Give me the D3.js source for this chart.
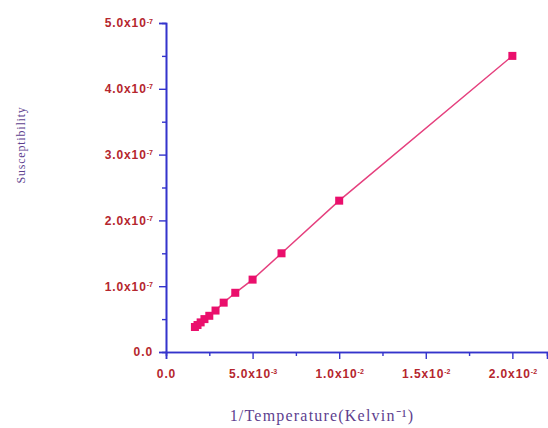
<!DOCTYPE html>
<html>
<head>
<meta charset="utf-8">
<script src="https://cdn.jsdelivr.net/npm/d3@7"></script>
<style>
  body { margin: 0; background: #fff; }
</style>
</head>
<body>
<div id="chart"></div>
<script>
// data
var invTemp = [0.00167, 0.00182, 0.002, 0.00222, 0.0025, 0.00286, 0.00333, 0.004, 0.005, 0.00667, 0.01, 0.02];
var suscept = [0.38e-7, 0.41e-7, 0.45e-7, 0.5e-7, 0.55e-7, 0.63e-7, 0.75e-7, 0.9e-7, 1.1e-7, 1.5e-7, 2.3e-7, 4.5e-7];
var xTicks = [0, 0.005, 0.01, 0.015, 0.02];
var xTickText = [["0.0", ""], ["5.0x10", "-3"], ["1.0x10", "-2"], ["1.5x10", "-2"], ["2.0x10", "-2"]];
var yTicks = [0, 1e-7, 2e-7, 3e-7, 4e-7, 5e-7];
var yTickText = [["0.0", ""], ["1.0x10", "-7"], ["2.0x10", "-7"], ["3.0x10", "-7"], ["4.0x10", "-7"], ["5.0x10", "-7"]];

var data = invTemp.map((d, i) => ({x: d, y: suscept[i]}));

var width = 548, height = 428;
var margin = {top: 23, right: 1, bottom: 76, left: 166};

var svg = d3.select("#chart")
    .append("svg")
    .attr("width", width)
    .attr("height", height);

// Set X
const x = d3.scaleLinear()
    .domain([0, 0.022])
    .range([margin.left, width - margin.right]);

// Set Y
const y = d3.scaleLinear()
    .domain([0, 5e-7])
    .range([height - margin.bottom, margin.top]);

var axisColor = "#3434cc",
    labelColor = "#b5262e",
    titleColor = "#5e3f8f";

function styleAxis(g) {
    g.select(".domain").attr("stroke", axisColor).attr("stroke-width", 1.6);
    g.selectAll(".tick line").attr("stroke", axisColor).attr("stroke-width", 1.4);
}

function styleLabels(g) {
    g.selectAll(".tick text")
        .attr("fill", labelColor)
        .attr("font-family", "Arial, 'Liberation Sans', sans-serif")
        .attr("font-weight", "bold")
        .attr("font-size", "12px")
        .attr("letter-spacing", "0.9px");
}

function supLabels(g, texts) {
    g.selectAll(".tick text").each(function (d, i) {
        var t = d3.select(this).text("");
        t.append("tspan").text(texts[i][0]);
        if (texts[i][1]) {
            t.append("tspan").attr("dy", "-0.55em").attr("font-size", "7px").attr("letter-spacing", "0").text(texts[i][1]);
        }
    });
}

// minor ticks
svg.append("g")
    .attr("transform", `translate(0,${y(0)})`)
    .call(d3.axisBottom(x).tickValues(d3.range(0.0025, 0.022, 0.005)).tickSize(4).tickFormat(""))
    .call(styleAxis);

svg.append("g")
    .attr("transform", `translate(${x(0)},0)`)
    .call(d3.axisLeft(y).tickValues(d3.range(0.5e-7, 5e-7, 1e-7)).tickSize(4).tickFormat(""))
    .call(styleAxis);

// x Axis
svg.append("g")
    .attr("transform", `translate(0,${y(0)})`)
    .call(d3.axisBottom(x).tickValues(xTicks).tickSize(7).tickPadding(10))
    .call(styleAxis)
    .call(styleLabels)
    .call(g => supLabels(g, xTickText));

// y axis
svg.append("g")
    .attr("transform", `translate(${x(0)},0)`)
    .call(d3.axisLeft(y).tickValues(yTicks).tickSize(7).tickPadding(6))
    .call(styleAxis)
    .call(styleLabels)
    .call(g => supLabels(g, yTickText));

// line
svg.append("path")
    .datum(data)
    .attr("fill", "none")
    .attr("stroke", "#e5407e")
    .attr("stroke-width", 1.5)
    .attr("d", d3.line().x(d => x(d.x)).y(d => y(d.y)));

// markers
svg.append("g")
    .attr("fill", "#ea0f6c")
    .selectAll("rect")
    .data(data)
    .join("rect")
    .attr("x", d => x(d.x) - 4)
    .attr("y", d => y(d.y) - 4)
    .attr("width", 8)
    .attr("height", 8);

// axis titles
svg.append("text")
    .attr("transform", "translate(25,145) rotate(-90)")
    .attr("text-anchor", "middle")
    .attr("fill", titleColor)
    .attr("font-family", "'Liberation Serif', 'Times New Roman', serif")
    .attr("font-size", "12px")
    .attr("letter-spacing", "0.8px")
    .text("Susceptibility");

svg.append("text")
    .attr("x", 322)
    .attr("y", 421)
    .attr("text-anchor", "middle")
    .attr("fill", titleColor)
    .attr("font-family", "'Liberation Serif', 'Times New Roman', serif")
    .attr("font-size", "16px")
    .attr("letter-spacing", "1.2px")
    .text("1/Temperature(Kelvin\u207B\u00B9)");
</script>
</body>
</html>
